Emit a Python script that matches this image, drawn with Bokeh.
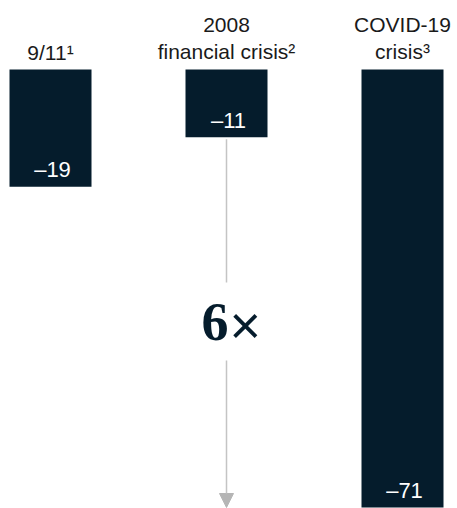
from bokeh.plotting import figure
from bokeh.models import Range1d, Arrow, NormalHead, Label, ColumnDataSource
from bokeh.core.properties import value
from bokeh.embed import file_html
from bokeh.resources import INLINE

# ---- data ----
categories = ["9/11¹", "2008\nfinancial crisis²", "COVID-19\ncrisis³"]
values = [-19, -11, -71]
value_labels = ["–19", "–11", "–71"]
multiplier_label = "6"
multiplier_sign = "×"

NAVY = "#051c2c"
GRAY = "#c4c4c4"
FONT = "Liberation Sans"

xs = list(range(len(categories)))

W, H = 457, 508
px_per_x = 176.0
x0_px = 50.0
top_px = 69.0
px_per_unit = (H - 1 - top_px) / abs(min(values))

p = figure(width=W, height=H, output_backend="svg", toolbar_location=None,
           min_border=0, outline_line_color=None,
           x_range=Range1d(-x0_px / px_per_x, (W - x0_px) / px_per_x),
           y_range=Range1d(-(H - top_px) / px_per_unit, top_px / px_per_unit))
p.axis.visible = False
p.grid.visible = False
p.background_fill_color = "white"
p.border_fill_color = "white"

src = ColumnDataSource(dict(x=xs, v=values, lab=value_labels, cat=categories,
                            zero=[0] * len(xs)))

p.vbar(x="x", top="zero", bottom="v", width=82 / px_per_x, source=src,
       fill_color=NAVY, line_color=None)

p.text(x="x", y="v", text="lab", source=src, text_align="center",
       text_baseline="alphabetic", y_offset=-17, x_offset=2, text_color="white",
       text_font=value(FONT), text_font_size="22px")

p.text(x="x", y="zero", text="cat", source=src, text_align="center",
       text_baseline="bottom", y_offset=-6, text_color="#1a1a1a",
       text_font=value(FONT), text_font_size="21px", text_line_height=1.2)

# arrow from 2008 bar bottom to COVID bar bottom, with gap for label
ax = xs[1]
start_v = values[1]
end_v = values[2]
mid = (start_v + end_v) / 2.0
gap = 40 / px_per_unit
p.segment(x0=[ax], y0=[start_v - 2 / px_per_unit], x1=[ax], y1=[mid + gap],
          line_color=GRAY, line_width=1.5)
p.add_layout(Arrow(x_start=ax, y_start=mid - gap + 2 / px_per_unit, x_end=ax, y_end=end_v,
                   line_color=GRAY, line_width=1.5,
                   end=NormalHead(size=14, fill_color="#b5b5b5", line_color="#b5b5b5")))

p.add_layout(Label(x=ax, y=mid, text=multiplier_label, text_align="right",
                   text_baseline="middle", x_offset=2, text_color=NAVY,
                   text_font="Liberation Serif", text_font_style="bold",
                   text_font_size="54px"))
p.add_layout(Label(x=ax, y=mid, text=multiplier_sign, text_align="left",
                   text_baseline="middle", x_offset=3, y_offset=-3, text_color=NAVY,
                   text_font="Liberation Sans", text_font_size="54px"))

open("out.html", "w").write(file_html(p, INLINE))
